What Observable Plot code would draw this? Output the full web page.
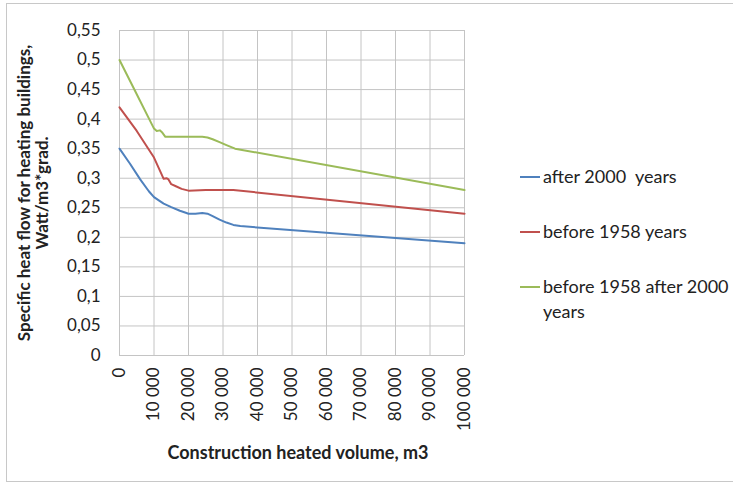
<!DOCTYPE html>
<html>
<head>
<meta charset="utf-8">
<script src="https://cdn.jsdelivr.net/npm/d3@7"></script>
<script src="https://cdn.jsdelivr.net/npm/@observablehq/plot@0.6"></script>
<style>
  html, body { margin: 0; padding: 0; background: #fff; }
  #wrap { position: relative; width: 733px; height: 484px; overflow: hidden; font-family: Lato, "Open Sans", sans-serif; }
  #border { position: absolute; left: 6px; top: 3px; width: 730px; height: 479px; border: 1px solid #c8c8c8; box-sizing: border-box; pointer-events: none; }
  .leg { position: absolute; left: 520px; font-size: 18px; color: #222; line-height: 25px; }
  .leg .sw { position: absolute; left: 0; top: 12px; width: 20px; height: 0; border-top: 2px solid; }
  .leg .tx { position: absolute; left: 23px; white-space: nowrap; }
</style>
</head>
<body>
<div id="wrap"><div id="border"></div></div>
<script>
// Series (x = heated volume, m3; y = specific heat flow)
const seriesNames = ["after 2000  years", "before 1958 years", "before 1958 after 2000 years"];
const seriesColors = ["#4F81BD", "#C0504D", "#9BBB59"];

const after2000X = [0, 3000, 6000, 8500, 10000, 11500, 12800, 15000, 17500, 19000, 20000, 22000, 24000, 25500, 27000, 29000, 31000, 33000, 35000, 100000];
const after2000Y = [0.35, 0.325, 0.298, 0.278, 0.268, 0.262, 0.257, 0.251, 0.245, 0.242, 0.24, 0.24, 0.241, 0.24, 0.236, 0.23, 0.225, 0.221, 0.219, 0.19];

const before1958X = [0, 5000, 10000, 12800, 13700, 14200, 15000, 16500, 18000, 20000, 25000, 30000, 33000, 100000];
const before1958Y = [0.42, 0.38, 0.335, 0.299, 0.3, 0.298, 0.29, 0.286, 0.282, 0.279, 0.28, 0.28, 0.28, 0.24];

const bothX = [0, 5000, 10000, 10800, 11700, 12300, 13300, 20000, 24000, 25500, 27000, 29000, 31000, 33500, 100000];
const bothY = [0.5, 0.442, 0.384, 0.38, 0.381, 0.378, 0.37, 0.37, 0.37, 0.369, 0.366, 0.361, 0.356, 0.35, 0.28];

const xTicks = [0, 10000, 20000, 30000, 40000, 50000, 60000, 70000, 80000, 90000, 100000];
const yTicks = [0, 0.05, 0.1, 0.15, 0.2, 0.25, 0.3, 0.35, 0.4, 0.45, 0.5, 0.55];

const yTitle1 = "Specific heat flow for heating buildings,";
const yTitle2 = "Watt/m3*grad.";
const xTitle = "Construction heated volume, m3";

const rows = [];
[[after2000X, after2000Y], [before1958X, before1958Y], [bothX, bothY]].forEach(([xs, ys], i) => {
  xs.forEach((x, j) => rows.push({series: seriesNames[i], x, y: ys[j]}));
});

const fmtX = d3.formatLocale({thousands: "\u00a0", grouping: [3], decimal: ","}).format(",");
const fmtY = d => String(d).replace(".", ",");

const chart = Plot.plot({
  width: 733,
  height: 484,
  marginLeft: 119,
  marginRight: 269,
  marginTop: 30,
  marginBottom: 129,
  style: {fontFamily: "Lato, 'Open Sans', sans-serif", fontSize: "17px", color: "#222", background: "transparent"},
  x: {domain: [0, 100000]},
  y: {domain: [0, 0.55]},
  color: {domain: seriesNames, range: seriesColors},
  marks: [
    Plot.gridX(xTicks, {stroke: "#c4c4c4", strokeOpacity: 1, strokeWidth: 1}),
    Plot.gridY(yTicks, {stroke: "#c4c4c4", strokeOpacity: 1, strokeWidth: 1}),
    Plot.axisX(xTicks, {tickFormat: fmtX, tickRotate: -90, tickSize: 0, tickPadding: 12, label: null, fontSize: 17, fill: "#222"}),
    Plot.axisY(yTicks, {tickFormat: fmtY, tickSize: 0, tickPadding: 19, label: null, fontSize: 17, fill: "#222"}),
    Plot.line(rows, {x: "x", y: "y", z: "series", stroke: "series", strokeWidth: 2, curve: "linear"}),
    Plot.text([yTitle1], {frameAnchor: "left", rotate: -90, dx: -95, textAnchor: "middle", text: d => d, fontWeight: "bold", fontSize: 17, fill: "#222"}),
    Plot.text([yTitle2], {frameAnchor: "left", rotate: -90, dx: -77, textAnchor: "middle", text: d => d, fontWeight: "bold", fontSize: 17, fill: "#222"}),
    Plot.text([xTitle], {frameAnchor: "bottom", dy: 103, dx: 6, textAnchor: "middle", text: d => d, fontWeight: "bold", fontSize: 18, fill: "#222"})
  ]
});

const wrap = document.getElementById("wrap");
chart.style.position = "absolute";
chart.style.left = "0";
chart.style.top = "0";
wrap.insertBefore(chart, wrap.firstChild);

const legendLayout = [{top: 164, lines: [seriesNames[0]]}, {top: 219, lines: [seriesNames[1]]}, {top: 274, lines: ["before 1958 after 2000", "years"]}];
legendLayout.forEach((l, i) => {
  const d = document.createElement("div");
  d.className = "leg";
  d.style.top = l.top + "px";
  const sw = document.createElement("div");
  sw.className = "sw";
  sw.style.borderColor = seriesColors[i];
  d.appendChild(sw);
  const tx = document.createElement("div");
  tx.className = "tx";
  tx.innerHTML = l.lines.map(s => s.replace(/  /g, " &nbsp;")).join("<br>");
  d.appendChild(tx);
  wrap.appendChild(d);
});
</script>
</body>
</html>
